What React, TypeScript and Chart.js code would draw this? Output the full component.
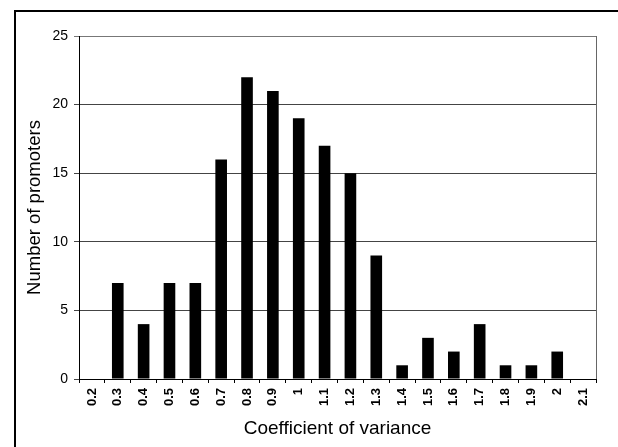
import React, { useEffect, useRef } from "react";
import { Chart, registerables } from "chart.js";

Chart.register(...registerables);

const categories = ["0.2", "0.3", "0.4", "0.5", "0.6", "0.7", "0.8", "0.9", "1", "1.1", "1.2", "1.3", "1.4", "1.5", "1.6", "1.7", "1.8", "1.9", "2", "2.1"];
const counts = [0, 7, 4, 7, 7, 16, 22, 21, 19, 17, 15, 9, 1, 3, 2, 4, 1, 1, 2, 0];
const yTicks = [0, 5, 10, 15, 20, 25];

const FONT = "'Liberation Sans', Arial, sans-serif";

const framePlugin = {
  id: "frame",
  afterDraw(chart: any) {
    const { ctx, chartArea } = chart;
    ctx.save();
    ctx.strokeStyle = "#000";
    ctx.lineWidth = 2;
    ctx.beginPath();
    ctx.moveTo(15, 447);
    ctx.lineTo(15, 11);
    ctx.lineTo(618, 11);
    ctx.stroke();
    ctx.strokeStyle = "#666";
    ctx.lineWidth = 1;
    ctx.beginPath();
    ctx.moveTo(Math.round(chartArea.right) + 0.5, chartArea.top);
    ctx.lineTo(Math.round(chartArea.right) + 0.5, chartArea.bottom);
    ctx.stroke();
    ctx.restore();
  },
};

export default function App() {
  const ref = useRef<HTMLCanvasElement>(null);
  useEffect(() => {
    document.body.style.margin = "0";
    const chart = new Chart(ref.current!, {
      type: "bar",
      data: {
        labels: categories,
        datasets: [
          {
            data: counts,
            backgroundColor: "#000",
            borderWidth: 0,
            barPercentage: 0.9,
            categoryPercentage: 0.5,
          },
        ],
      },
      options: {
        animation: false,
        responsive: false,
        maintainAspectRatio: false,
        layout: { padding: { top: 36, right: 22, left: 24, bottom: 0 } },
        plugins: { legend: { display: false }, tooltip: { enabled: false } },
        scales: {
          x: {
            offset: true,
            grid: {
              offset: true,
              drawOnChartArea: false,
              drawTicks: true,
              tickLength: 4,
              color: "#000",
            },
            border: { display: true, color: "#000", width: 1 },
            ticks: {
              minRotation: 90,
              maxRotation: 90,
              autoSkip: false,
              color: "#000",
              padding: 5,
              font: { family: FONT, size: 13, weight: "bold" },
            },
            title: {
              display: true,
              text: "Coefficient of variance",
              color: "#000",
              font: { family: FONT, size: 19 },
              padding: { top: 0, bottom: 7 },
            },
            afterFit(scale: any) {
              scale.height = 68;
            },
          },
          y: {
            min: 0,
            max: 25,
            afterBuildTicks(scale: any) {
              scale.ticks = yTicks.map((v) => ({ value: v }));
            },
            grid: {
              color: (c: any) => (c.tick && c.tick.value === 25 ? "#777" : "#444"),
              drawTicks: true,
              tickLength: 5,
            },
            border: { display: true, color: "#000", width: 1 },
            ticks: {
              color: "#000",
              padding: 6,
              font: { family: FONT, size: 14 },
            },
            title: {
              display: true,
              text: "Number of promoters",
              color: "#000",
              font: { family: FONT, size: 18.5 },
              padding: { top: 0, bottom: 0 },
            },
            afterFit(scale: any) {
              scale.width = 55;
            },
          },
        },
      },
      plugins: [framePlugin],
    });
    return () => chart.destroy();
  }, []);
  return (
    <div style={{ width: 618, height: 447, background: "#fff" }}>
      <canvas ref={ref} width={618} height={447} style={{ display: "block" }} />
    </div>
  );
}
